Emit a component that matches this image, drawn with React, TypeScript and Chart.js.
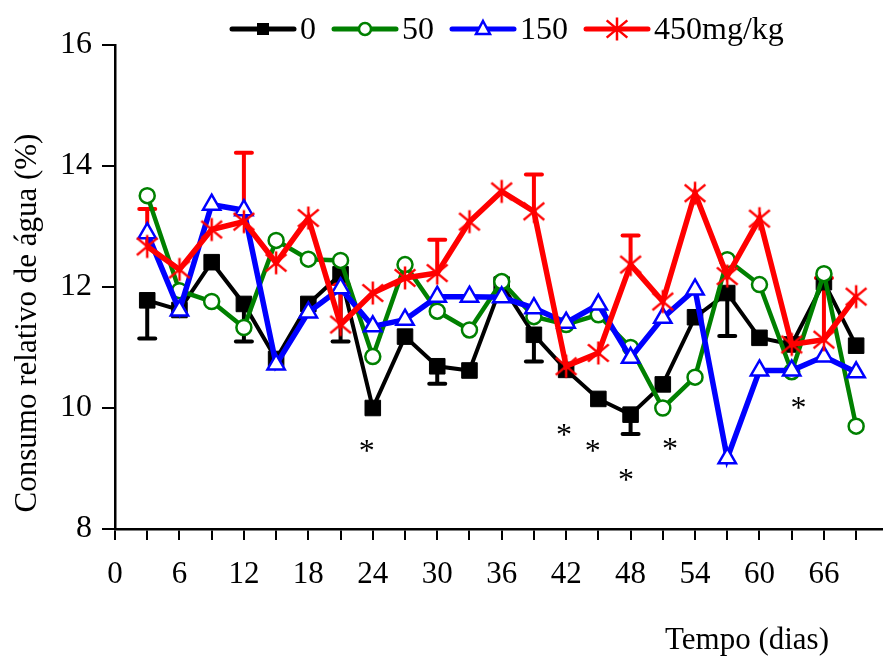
import React, { useEffect, useRef } from 'react';
import { Chart, registerables } from 'chart.js';
Chart.register(...registerables);

const days = [3, 6, 9, 12, 15, 18, 21, 24, 27, 30, 33, 36, 39, 42, 45, 48, 51, 54, 57, 60, 63, 66, 69];
const dose0 = [11.78, 11.62, 12.41, 11.72, 10.81, 11.72, 12.21, 10.0, 11.18, 10.69, 10.62, 12.04, 11.21, 10.63, 10.15, 9.89, 10.39, 11.5, 11.9, 11.16, 11.05, 12.08, 11.03];
const dose50 = [13.51, 11.94, 11.76, 11.33, 12.77, 12.46, 12.44, 10.85, 12.37, 11.6, 11.29, 12.09, 11.51, 11.38, 11.54, 11.0, 10.0, 10.51, 12.45, 12.04, 10.6, 12.22, 9.7];
const dose150 = [12.89, 11.61, 13.36, 13.27, 10.72, 11.58, 11.98, 11.35, 11.46, 11.84, 11.84, 11.83, 11.65, 11.41, 11.71, 10.83, 11.49, 11.96, 9.17, 10.62, 10.62, 10.85, 10.59];
const dose450 = [12.67, 12.29, 12.95, 13.08, 12.4, 13.14, 11.38, 11.9, 12.15, 12.23, 13.08, 13.58, 13.25, 10.69, 10.91, 12.37, 11.76, 13.55, 12.18, 13.13, 11.05, 11.13, 11.84];
const dose0ErrEnd = [11.15, null, null, 11.1, null, null, 11.1, null, null, 10.4, null, null, 10.77, null, null, 9.57, null, null, 11.19, null, null, null, null];
const dose450ErrEnd = [13.29, null, null, 14.22, null, null, 12.05, null, null, 12.78, null, null, 13.86, null, null, 12.85, null, null, null, null, null, 12.15, null];
const seriesLabels = ['0', '50', '150', '450mg/kg'];
const xTickValues = [0, 3, 6, 9, 12, 15, 18, 21, 24, 27, 30, 33, 36, 39, 42, 45, 48, 51, 54, 57, 60, 63, 66, 69];
const yTickValues = [8, 10, 12, 14, 16];
const sigX = [23.44, 41.81, 44.48, 47.58, 51.68, 63.63];
const sigY = [9.38, 9.64, 9.38, 8.9, 9.41, 10.09];
const xTitle = 'Tempo (dias)';
const yTitle = 'Consumo relativo de água (%)';

const FONT = '"Liberation Serif", "Times New Roman", serif';
const COLORS = ['#000000', '#008000', '#0000ff', '#ff0000'];

function makeStar(size: number, color: string, lw: number) {
  const c = document.createElement('canvas');
  c.width = size;
  c.height = size;
  const ctx = c.getContext('2d')!;
  const m = size / 2;
  const a = size / 2 - 1.5;
  ctx.strokeStyle = color;
  ctx.lineWidth = lw;
  ctx.lineCap = 'butt';
  ctx.beginPath();
  ctx.moveTo(m, m - a);
  ctx.lineTo(m, m + a);
  const dx = a * 0.9;
  const dy = a * 0.75;
  ctx.moveTo(m - dx, m - dy);
  ctx.lineTo(m + dx, m + dy);
  ctx.moveTo(m + dx, m - dy);
  ctx.lineTo(m - dx, m + dy);
  ctx.stroke();
  return c;
}

export default function App() {
  const ref = useRef<HTMLCanvasElement | null>(null);

  useEffect(() => {
    document.body.style.margin = '0';
    const canvas = ref.current!;
    const star = makeStar(26, COLORS[3], 2.5);

    const overlay = {
      id: 'overlay',
      beforeDatasetsDraw(chart: any) {
        const ctx = chart.ctx;
        const ys = chart.scales.y;
        const errs: [number, (number | null)[]][] = [[0, dose0ErrEnd], [3, dose450ErrEnd]];
        ctx.save();
        for (const [di, arr] of errs) {
          const meta = chart.getDatasetMeta(di);
          ctx.strokeStyle = COLORS[di];
          ctx.lineWidth = 4;
          meta.data.forEach((el: any, j: number) => {
            const v = arr[j];
            if (v == null) return;
            const ye = ys.getPixelForValue(v);
            ctx.beginPath();
            ctx.moveTo(el.x, el.y);
            ctx.lineTo(el.x, ye);
            ctx.stroke();
            ctx.beginPath();
            ctx.lineCap = 'round';
            ctx.moveTo(el.x - 8, ye);
            ctx.lineTo(el.x + 8, ye);
            ctx.stroke();
            ctx.lineCap = 'butt';
          });
        }
        ctx.restore();
      },
      afterDraw(chart: any) {
        const ctx = chart.ctx;
        const xs = chart.scales.x;
        const ys = chart.scales.y;
        ctx.save();
        ctx.fillStyle = '#000';
        // significance asterisks
        ctx.font = `32px ${FONT}`;
        ctx.textAlign = 'center';
        ctx.textBaseline = 'middle';
        sigX.forEach((x, i) => {
          ctx.fillText('*', xs.getPixelForValue(x), ys.getPixelForValue(sigY[i]) + 7);
        });
        // axis titles
        ctx.font = `31px ${FONT}`;
        ctx.fillText(xTitle, 747, 641);
        ctx.save();
        ctx.translate(28, 323);
        ctx.rotate(-Math.PI / 2);
        ctx.fillText(yTitle, 0, 0);
        ctx.restore();
        // legend
        const ly = 29;
        let x = 232;
        ctx.font = `32px ${FONT}`;
        ctx.textAlign = 'left';
        seriesLabels.forEach((lab, i) => {
          const col = COLORS[i];
          ctx.strokeStyle = col;
          ctx.lineWidth = 5;
          ctx.lineCap = 'round';
          ctx.beginPath();
          ctx.moveTo(x, ly);
          ctx.lineTo(x + 62, ly);
          ctx.stroke();
          ctx.lineCap = 'butt';
          const cx = x + 31;
          if (i === 0) {
            ctx.fillStyle = col;
            ctx.fillRect(cx - 6, ly - 6, 12, 12);
          } else if (i === 1) {
            ctx.beginPath();
            ctx.arc(cx, ly, 6, 0, Math.PI * 2);
            ctx.fillStyle = '#fff';
            ctx.fill();
            ctx.lineWidth = 2.5;
            ctx.stroke();
          } else if (i === 2) {
            ctx.beginPath();
            ctx.moveTo(cx, ly - 8);
            ctx.lineTo(cx + 7, ly + 5);
            ctx.lineTo(cx - 7, ly + 5);
            ctx.closePath();
            ctx.fillStyle = '#fff';
            ctx.fill();
            ctx.lineWidth = 2.5;
            ctx.stroke();
          } else {
            ctx.drawImage(star, cx - 13, ly - 13);
          }
          ctx.fillStyle = '#000';
          ctx.fillText(lab, x + 68, ly + 2);
          x += 68 + ctx.measureText(lab).width + 18;
        });
        ctx.restore();
      },
    };

    const mk = (arr: number[]) => days.map((d, i) => ({ x: d, y: arr[i] }));

    const chart = new Chart(canvas, {
      type: 'line',
      data: {
        datasets: [
          {
            label: seriesLabels[0], data: mk(dose0), borderColor: COLORS[0], backgroundColor: COLORS[0],
            borderWidth: 4, pointStyle: 'rect', pointRadius: 11, pointBorderWidth: 1, pointBackgroundColor: COLORS[0],
            pointBorderColor: COLORS[0], order: 4, tension: 0, clip: false,
          },
          {
            label: seriesLabels[1], data: mk(dose50), borderColor: COLORS[1], backgroundColor: '#fff',
            borderWidth: 4.5, pointStyle: 'circle', pointRadius: 7.5, pointBorderWidth: 2.5, pointBackgroundColor: '#fff',
            pointBorderColor: COLORS[1], order: 3, tension: 0, clip: false,
          },
          {
            label: seriesLabels[2], data: mk(dose150), borderColor: COLORS[2], backgroundColor: '#fff',
            borderWidth: 5.5, pointStyle: 'triangle', pointRadius: 10, pointBorderWidth: 2.5, pointBackgroundColor: '#fff',
            pointBorderColor: COLORS[2], order: 2, tension: 0, clip: false,
          },
          {
            label: seriesLabels[3], data: mk(dose450), borderColor: COLORS[3], backgroundColor: COLORS[3],
            borderWidth: 5.5, pointStyle: star as any, pointRadius: 13, order: 1, tension: 0, clip: false,
          },
        ],
      },
      options: {
        animation: false,
        responsive: false,
        maintainAspectRatio: false,
        layout: { autoPadding: false, padding: { top: 45, left: 0, right: 0, bottom: 0 } },
        plugins: { legend: { display: false }, tooltip: { enabled: false }, title: { display: false } },
        scales: {
          x: {
            type: 'linear',
            min: 0,
            max: 71.5,
            afterBuildTicks: (s: any) => { s.ticks = xTickValues.map((v) => ({ value: v })); },
            afterFit: (s: any) => { s.height = 128; },
            ticks: {
              autoSkip: false,
              maxRotation: 0,
              padding: 16,
              color: '#000',
              font: { family: FONT, size: 31 },
              callback: (v: any) => (Number(v) % 6 === 0 && Number(v) <= 66 ? String(v) : ''),
            },
            grid: { drawOnChartArea: false, drawTicks: true, tickLength: 11, color: '#000', lineWidth: 2 },
            border: { display: true, color: '#000', width: 2.5 },
          },
          y: {
            min: 8,
            max: 16,
            afterBuildTicks: (s: any) => { s.ticks = yTickValues.map((v) => ({ value: v })); },
            afterFit: (s: any) => { s.width = 115; },
            ticks: {
              padding: 10,
              color: '#000',
              font: { family: FONT, size: 32 },
              callback: (v: any) => String(v),
            },
            grid: { drawOnChartArea: false, drawTicks: true, tickLength: 13, color: '#000', lineWidth: 2 },
            border: { display: true, color: '#000', width: 2.5 },
          },
        },
      },
      plugins: [overlay],
    } as any);

    return () => chart.destroy();
  }, []);

  return (
    <div style={{ width: 883, height: 657, background: '#fff' }}>
      <canvas ref={ref} width={883} height={657} style={{ display: 'block' }} />
    </div>
  );
}
